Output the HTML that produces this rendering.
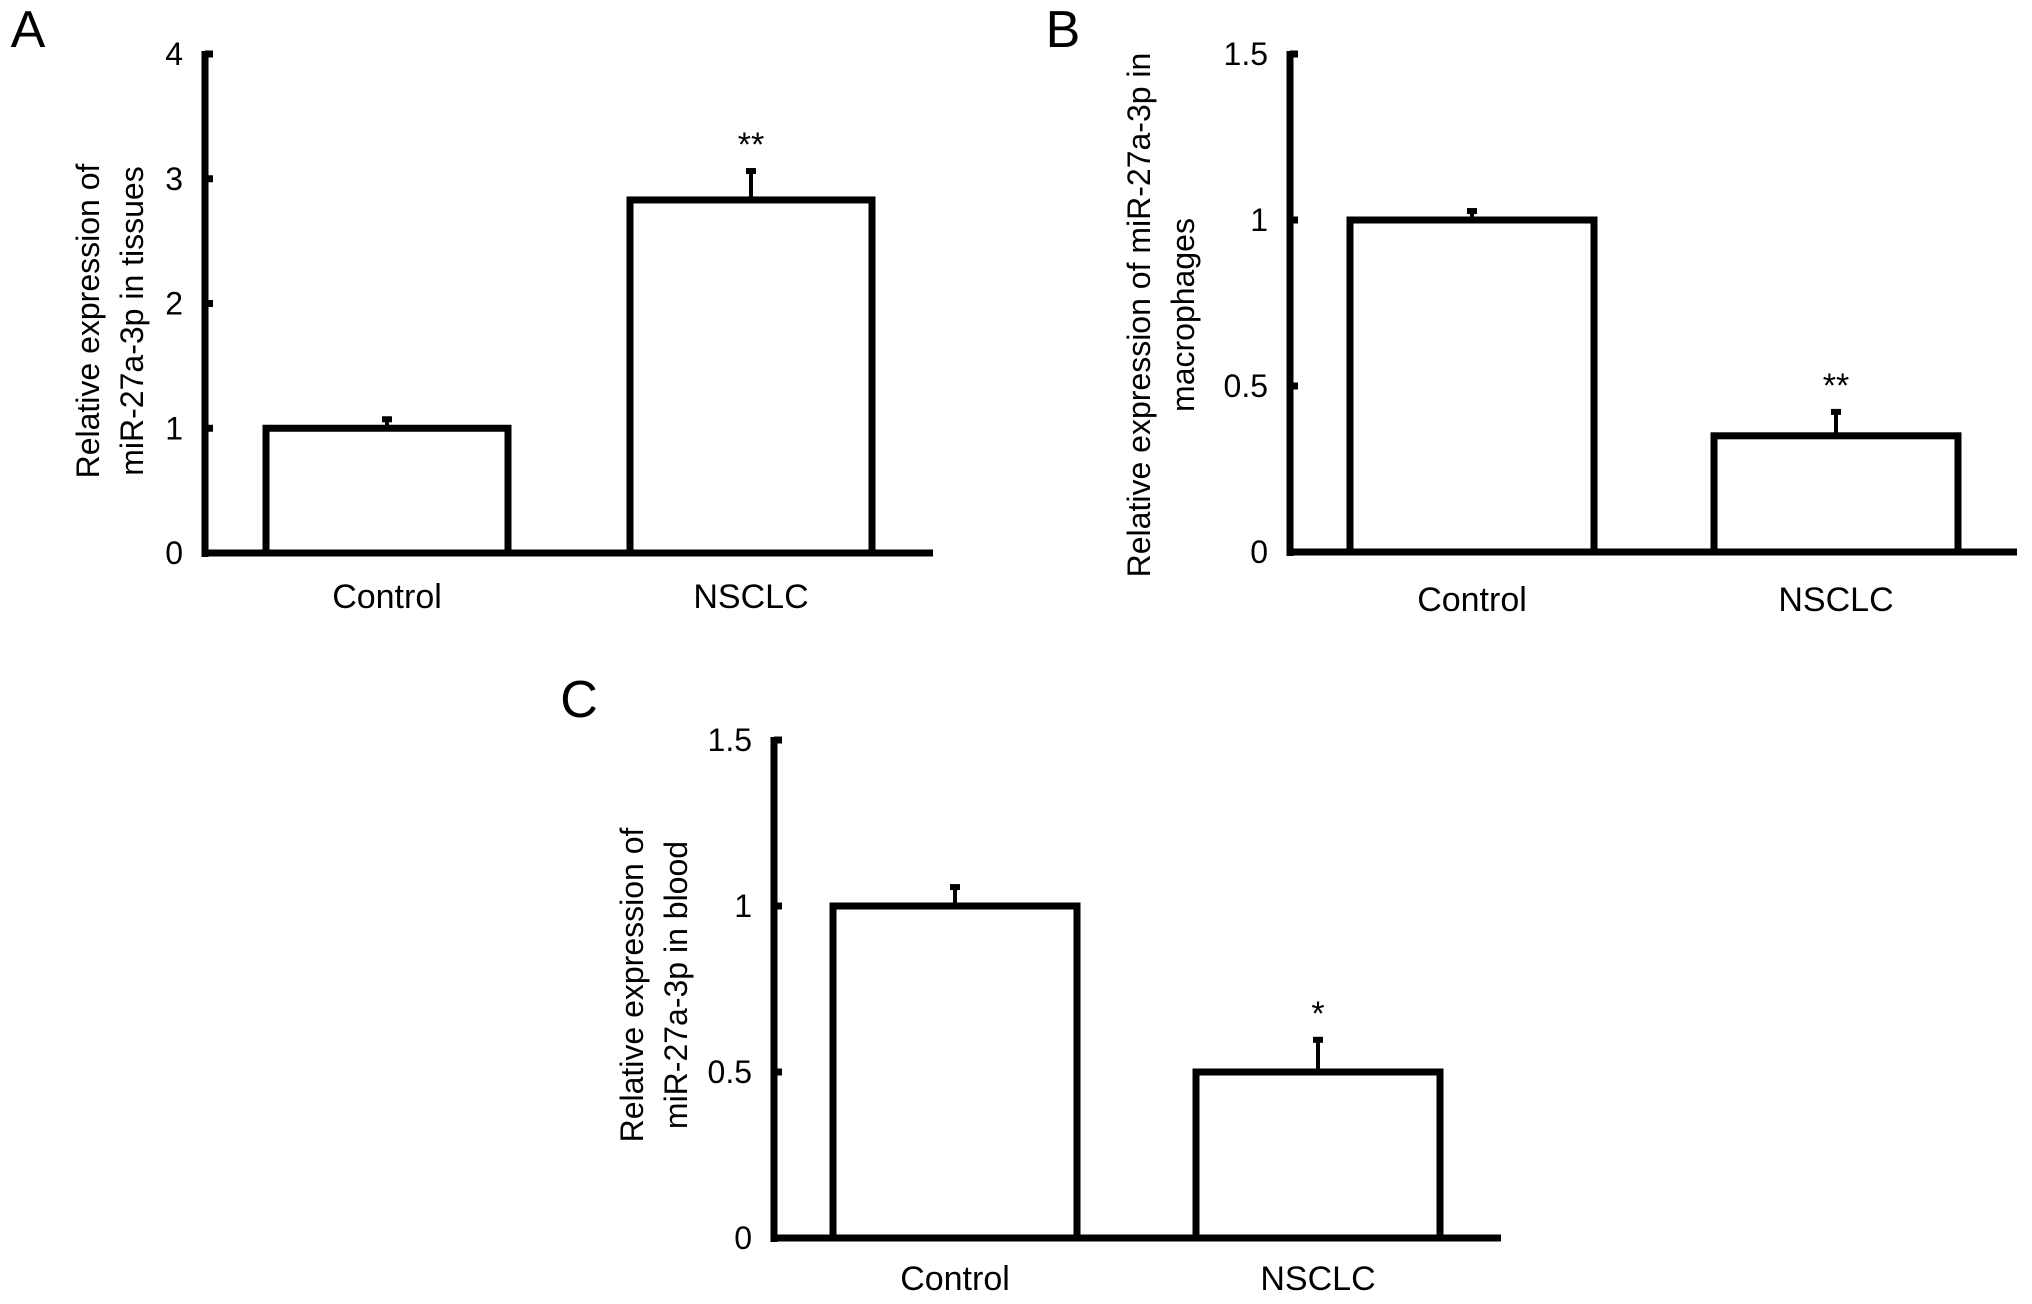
<!DOCTYPE html>
<html><head><meta charset="utf-8"><style>
html,body{margin:0;padding:0;background:#fff;}
svg{display:block;font-family:"Liberation Sans",Arial,sans-serif;}
</style></head><body>
<svg id="fig" width="2032" height="1304" viewBox="0 0 2032 1304"></svg>
<script>
const categories = ["Control", "NSCLC"];
const valuesA = [1.0, 2.83];
const errorsA = [0.08, 0.24];
const valuesB = [1.0, 0.35];
const errorsB = [0.03, 0.075];
const valuesC = [1.0, 0.5];
const errorsC = [0.06, 0.10];
const ticksA = [0, 1, 2, 3, 4];
const ticksB = [0, 0.5, 1, 1.5];
const ticksC = [0, 0.5, 1, 1.5];
const tickLabelsA = ["0", "1", "2", "3", "4"];
const tickLabelsB = ["0", "0.5", "1", "1.5"];
const tickLabelsC = ["0", "0.5", "1", "1.5"];
const sigA = ["", "**"];
const sigB = ["", "**"];
const sigC = ["", "*"];

const NS = "http://www.w3.org/2000/svg";
const svg = document.getElementById("fig");
function mk(tag, attrs, parent) {
  const e = document.createElementNS(NS, tag);
  for (const k in attrs) e.setAttribute(k, attrs[k]);
  (parent || svg).appendChild(e);
  return e;
}

function panel(cfg) {
  const g = mk("g", {});
  
  
  const yScale = v => cfg.y0 - (v / cfg.max) * (cfg.y0 - cfg.yTop);
  // panel letter
  const L = mk("text", {x: cfg.lx, y: cfg.ly, "font-size": 52, "text-anchor": "middle", "dominant-baseline": "central"}, g);
  L.textContent = cfg.id.toUpperCase();
  
  
  // bars
  const bw = cfg.barW;
  cfg.values.forEach((v, i) => {
    const cx = cfg.barCx[i];
    const top = yScale(v);
    const r = mk("rect", {x: cx - bw / 2, y: top, width: bw, height: cfg.y0 - top, fill: "#fff", stroke: "#000", "stroke-width": 7}, g);
    
    
    const et = yScale(v + cfg.errors[i]);
    const el = mk("line", {x1: cx, x2: cx, y1: top, y2: et, stroke: "#000", "stroke-width": 4}, g);
    
    
    const cap = mk("rect", {x: cx - 5, y: et - 2, width: 10, height: 6, fill: "#000"}, g);
    
    
    if (cfg.sig[i]) {
      const s = mk("text", {x: cx, y: et - 14, "font-size": 34, "text-anchor": "middle"}, g);
      s.textContent = cfg.sig[i];
      
      
    }
    const cl = mk("text", {x: cx, y: cfg.catY, "font-size": 34, "text-anchor": "middle", "dominant-baseline": "central"}, g);
    cl.textContent = categories[i];
    
    
  });
  // axes
  const ya = mk("line", {x1: cfg.ax, x2: cfg.ax, y1: cfg.yTop - 3, y2: cfg.y0 + 4, stroke: "#000", "stroke-width": 7}, g);
  
  
  const xa = mk("line", {x1: cfg.ax - 3, x2: cfg.xEnd, y1: cfg.y0, y2: cfg.y0, stroke: "#000", "stroke-width": 7}, g);
  
  
  cfg.ticks.forEach((t, i) => {
    const y = yScale(t);
    const tk = mk("line", {x1: cfg.ax, x2: cfg.ax + 8, y1: y, y2: y, stroke: "#000", "stroke-width": 7}, g);
    
    
    const tl = mk("text", {x: cfg.ax - 22, y: y, "font-size": 32, "text-anchor": "end", "dominant-baseline": "central"}, g);
    tl.textContent = cfg.tickLabels[i];
    
    
  });
  // y title
  const tg = mk("g", {transform: "translate(" + cfg.tx + "," + cfg.ty + ") rotate(-90)"}, g);
  
  
  cfg.title.forEach((line, k) => {
    const t = mk("text", {x: 0, y: k * 44, "font-size": 32, "text-anchor": "middle", "dominant-baseline": "central"}, tg);
    t.textContent = line;
  });
}

panel({id: "a", values: valuesA, errors: errorsA, ticks: ticksA, tickLabels: tickLabelsA, sig: sigA, max: 4,
  ax: 205, y0: 553, yTop: 54, xEnd: 933, barCx: [387, 751], barW: 242, catY: 597,
  lx: 28, ly: 30, tx: 88, ty: 321, title: ["Relative expression of", "miR-27a-3p in tissues"]});
panel({id: "b", values: valuesB, errors: errorsB, ticks: ticksB, tickLabels: tickLabelsB, sig: sigB, max: 1.5,
  ax: 1290, y0: 552, yTop: 54, xEnd: 2017, barCx: [1472, 1836], barW: 244, catY: 600,
  lx: 1063, ly: 30, tx: 1139, ty: 315, title: ["Relative expression of miR-27a-3p in", "macrophages"]});
panel({id: "c", values: valuesC, errors: errorsC, ticks: ticksC, tickLabels: tickLabelsC, sig: sigC, max: 1.5,
  ax: 774, y0: 1238, yTop: 740, xEnd: 1501, barCx: [955, 1318], barW: 244, catY: 1279,
  lx: 579, ly: 700, tx: 632, ty: 985, title: ["Relative expression of", "miR-27a-3p in blood"]});
</script>
</body></html>
